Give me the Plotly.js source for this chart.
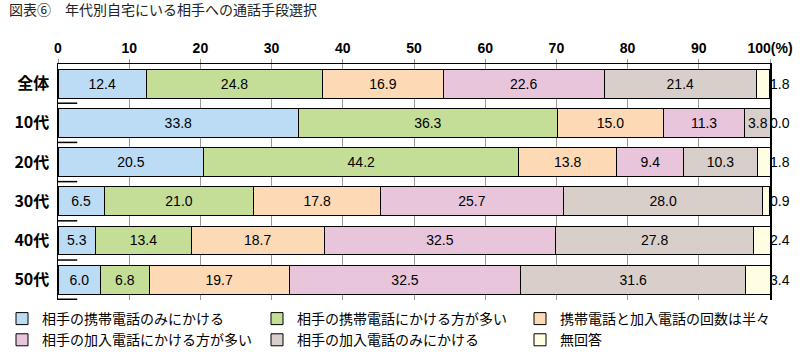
<!DOCTYPE html>
<html><head><meta charset="utf-8">
<script src="https://cdn.plot.ly/plotly-3.0.1.min.js"></script>
<style>body{margin:0;padding:0;background:#fff}#c{width:804px;height:359px}</style>
</head><body><div id="c"></div>
<script>
const categories = ["全体","10代","20代","30代","40代","50代"];
const seriesNames = ["相手の携帯電話のみにかける","相手の携帯電話にかける方が多い","携帯電話と加入電話の回数は半々","相手の加入電話にかける方が多い","相手の加入電話のみにかける","無回答"];
const s1 = [12.4, 33.8, 20.5, 6.5, 5.3, 6.0];
const s2 = [24.8, 36.3, 44.2, 21.0, 13.4, 6.8];
const s3 = [16.9, 15.0, 13.8, 17.8, 18.7, 19.7];
const s4 = [22.6, 11.3, 9.4, 25.7, 32.5, 32.5];
const s5 = [21.4, 3.8, 10.3, 28.0, 27.8, 31.6];
const s6 = [1.8, 0.0, 1.8, 0.9, 2.4, 3.4];
const tickVals = [0,10,20,30,40,50,60,70,80,90,100];
const tickText = ["0","10","20","30","40","50","60","70","80","90","100(%)"];
const colors = ["#bcdcf5","#c4de98","#fdd9b5","#e9c5dc","#d8cfcb","#fffde2"];

const series = [s1,s2,s3,s4,s5,s6];
const legendIds = ['legend','legend2','legend3'];
const traces = series.map((vals,i)=>({
  type:'bar', orientation:'h', name:seriesNames[i],
  y:categories, x:vals,
  legend: legendIds[i % 3],
  marker:{color:colors[i], line:{color:'#000', width:1}},
  text: i<5 ? vals.map(v=>v.toFixed(1)) : vals.map(()=>''),
  textposition: i<5 ? 'inside' : 'none',
  insidetextanchor:'middle',
  textfont:{family:'Liberation Sans, Arial, sans-serif', size:14, color:'#000'},
  hoverinfo:'none'
}));

const annotations = [{
  xref:'paper', yref:'paper', x:-0.072, y:1.235, xanchor:'left', yanchor:'middle',
  text:'図表⑥　年代別自宅にいる相手への通話手段選択', showarrow:false,
  font:{family:'Noto Sans CJK JP, sans-serif', size:14, color:'#222'}
}];
s6.forEach((v,i)=>{
  annotations.push({xref:'x', yref:'y', x:100, y:categories[i], xanchor:'left', yanchor:'middle',
    xshift:-2, text:v.toFixed(1), showarrow:false,
    font:{family:'Liberation Sans, Arial, sans-serif', size:14, color:'#000'}});
});
const shapes = categories.map((c,i)=>({
  type:'line', xref:'x', yref:'y', x0:0, x1:2.7, y0:i+0.5, y1:i+0.5,
  line:{color:'#000', width:1.5}
}));

const legendBase = {orientation:'v', xref:'container', yref:'container', y:0.156,
  xanchor:'left', yanchor:'top', traceorder:'normal', itemclick:false,
  bgcolor:'rgba(0,0,0,0)',
  font:{family:'Noto Sans CJK JP, sans-serif', size:14, color:'#000'}, tracegroupgap:0};

const layout = {
  width:804, height:359,
  margin:{l:58, r:34, t:64, b:59, autoexpand:false},
  barmode:'stack', bargap:0.265,
  paper_bgcolor:'#fff', plot_bgcolor:'#fff',
  showlegend:true,
  uniformtext:{mode:'show', minsize:14},
  xaxis:{side:'top', range:[0,100], tickvals:tickVals, ticktext:tickText,
    showgrid:true, gridcolor:'#999', gridwidth:1,
    ticks:'outside', ticklen:4, tickcolor:'#999',
    showline:true, linecolor:'#000', linewidth:1.5, mirror:false, zeroline:false,
    tickfont:{family:'Liberation Sans, Arial, sans-serif', size:14, color:'#000', weight:'bold'}},
  yaxis:{autorange:'reversed', type:'category',
    showline:true, linecolor:'#000', linewidth:1.5, mirror:true,
    ticks:'', ticklabelstandoff:4, showgrid:false, zeroline:false,
    tickfont:{family:'Noto Sans CJK JP, sans-serif', size:16, color:'#000', weight:'bold'}},
  legend: Object.assign({}, legendBase, {x: 2/804}),
  legend2: Object.assign({}, legendBase, {x: 257/804}),
  legend3: Object.assign({}, legendBase, {x: 520/804}),
  annotations:annotations, shapes:shapes
};
Plotly.newPlot('c', traces, layout, {staticPlot:true, displayModeBar:false});
</script></body></html>
